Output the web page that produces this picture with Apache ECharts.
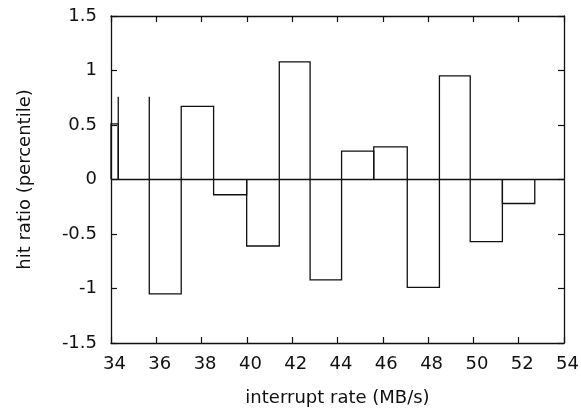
<!DOCTYPE html>
<html>
<head>
<meta charset="utf-8">
<script src="https://cdn.jsdelivr.net/npm/echarts@6/dist/echarts.min.js"></script>
<style>html,body{margin:0;padding:0;background:#fff}#c{width:581px;height:411px}</style>
</head>
<body>
<div id="c"></div>
<script>
// Bin edges (MB/s) and box heights
const binStarts = [32.90, 34.32, 35.69, 37.10, 38.53, 39.99, 41.43, 42.79, 44.18, 45.60, 47.08, 48.50, 49.86, 51.28];
const binEnds   = [34.32, 35.69, 37.10, 38.53, 39.99, 41.43, 42.79, 44.18, 45.60, 47.08, 48.50, 49.86, 51.28, 52.71];
const hitRatio  = [0.51, 0.76, -1.05, 0.67, -0.14, -0.61, 1.08, -0.92, 0.26, 0.30, -0.99, 0.95, -0.57, -0.22];
const xTicks = [34, 36, 38, 40, 42, 44, 46, 48, 50, 52, 54];
const yTicks = [-1.5, -1, -0.5, 0, 0.5, 1, 1.5];

const FONT = 'DejaVu Sans';
const INK = '#111';
const data = binStarts.map((s, i) => [s, binEnds[i], hitRatio[i]]);

const chart = echarts.init(document.getElementById('c'), null, {renderer: 'canvas'});
const xMin = xTicks[0], xMax = xTicks[xTicks.length - 1];
const yMin = yTicks[0], yMax = yTicks[yTicks.length - 1];
const axisCommon = {
  axisLine: {show: true, onZero: false, lineStyle: {color: INK, width: 1.3}},
  axisTick: {show: true, inside: true, length: 6, lineStyle: {color: INK, width: 1.2}},
  splitLine: {show: false}
};
chart.setOption({
  animation: false,
  backgroundColor: '#fff',
  grid: {left: 111, top: 16, right: 17, bottom: 68, containLabel: false, outerBoundsMode: 'none'},
  xAxis: [
    Object.assign({
      type: 'value', position: 'bottom', min: xMin, max: xMax, interval: 2,
      name: 'interrupt rate (MB/s)', nameLocation: 'middle', nameGap: 46,
      nameTextStyle: {fontFamily: FONT, fontSize: 18, color: INK},
      axisLabel: {fontFamily: FONT, fontSize: 18, color: INK, margin: 12, padding: [0, 0, 0, 7]}
    }, axisCommon),
    Object.assign({
      type: 'value', position: 'top', min: xMin, max: xMax, interval: 2,
      axisLabel: {show: false}
    }, axisCommon)
  ],
  yAxis: [
    Object.assign({
      type: 'value', position: 'left', min: yMin, max: yMax, interval: 0.5,
      name: 'hit ratio (percentile)', nameLocation: 'middle', nameGap: 77,
      nameTextStyle: {fontFamily: FONT, fontSize: 18, color: INK},
      axisLabel: {fontFamily: FONT, fontSize: 18, color: INK, margin: 14}
    }, axisCommon),
    Object.assign({
      type: 'value', position: 'right', min: yMin, max: yMax, interval: 0.5,
      axisLabel: {show: false}
    }, axisCommon)
  ],
  series: [{
    type: 'custom',
    xAxisIndex: 0, yAxisIndex: 0,
    data: data,
    encode: {x: [0, 1], y: 2},
    renderItem: function (params, api) {
      const cs = params.coordSys;
      const p0 = api.coord([api.value(0), 0]);
      const p1 = api.coord([api.value(1), api.value(2)]);
      const left = Math.max(p0[0], cs.x);
      const right = Math.min(p1[0], cs.x + cs.width);
      const yz = p0[1], yv = p1[1];
      const style = {stroke: INK, lineWidth: 1.3, fill: null};
      if (params.dataIndex === 1) {
        // in the reference this box is drawn without its top edge
        return {type: 'group', children: [
          {type: 'line', shape: {x1: left, y1: yz, x2: left, y2: yv}, style: style},
          {type: 'line', shape: {x1: right, y1: yz, x2: right, y2: yv}, style: style}
        ]};
      }
      return {
        type: 'polyline',
        shape: {points: [[left, yz], [left, yv], [right, yv], [right, yz]]},
        style: style
      };
    },
    markLine: {
      silent: true, symbol: 'none', label: {show: false},
      lineStyle: {color: INK, width: 1.3, type: 'solid'},
      data: [{yAxis: 0}]
    }
  }]
});
</script>
</body>
</html>
